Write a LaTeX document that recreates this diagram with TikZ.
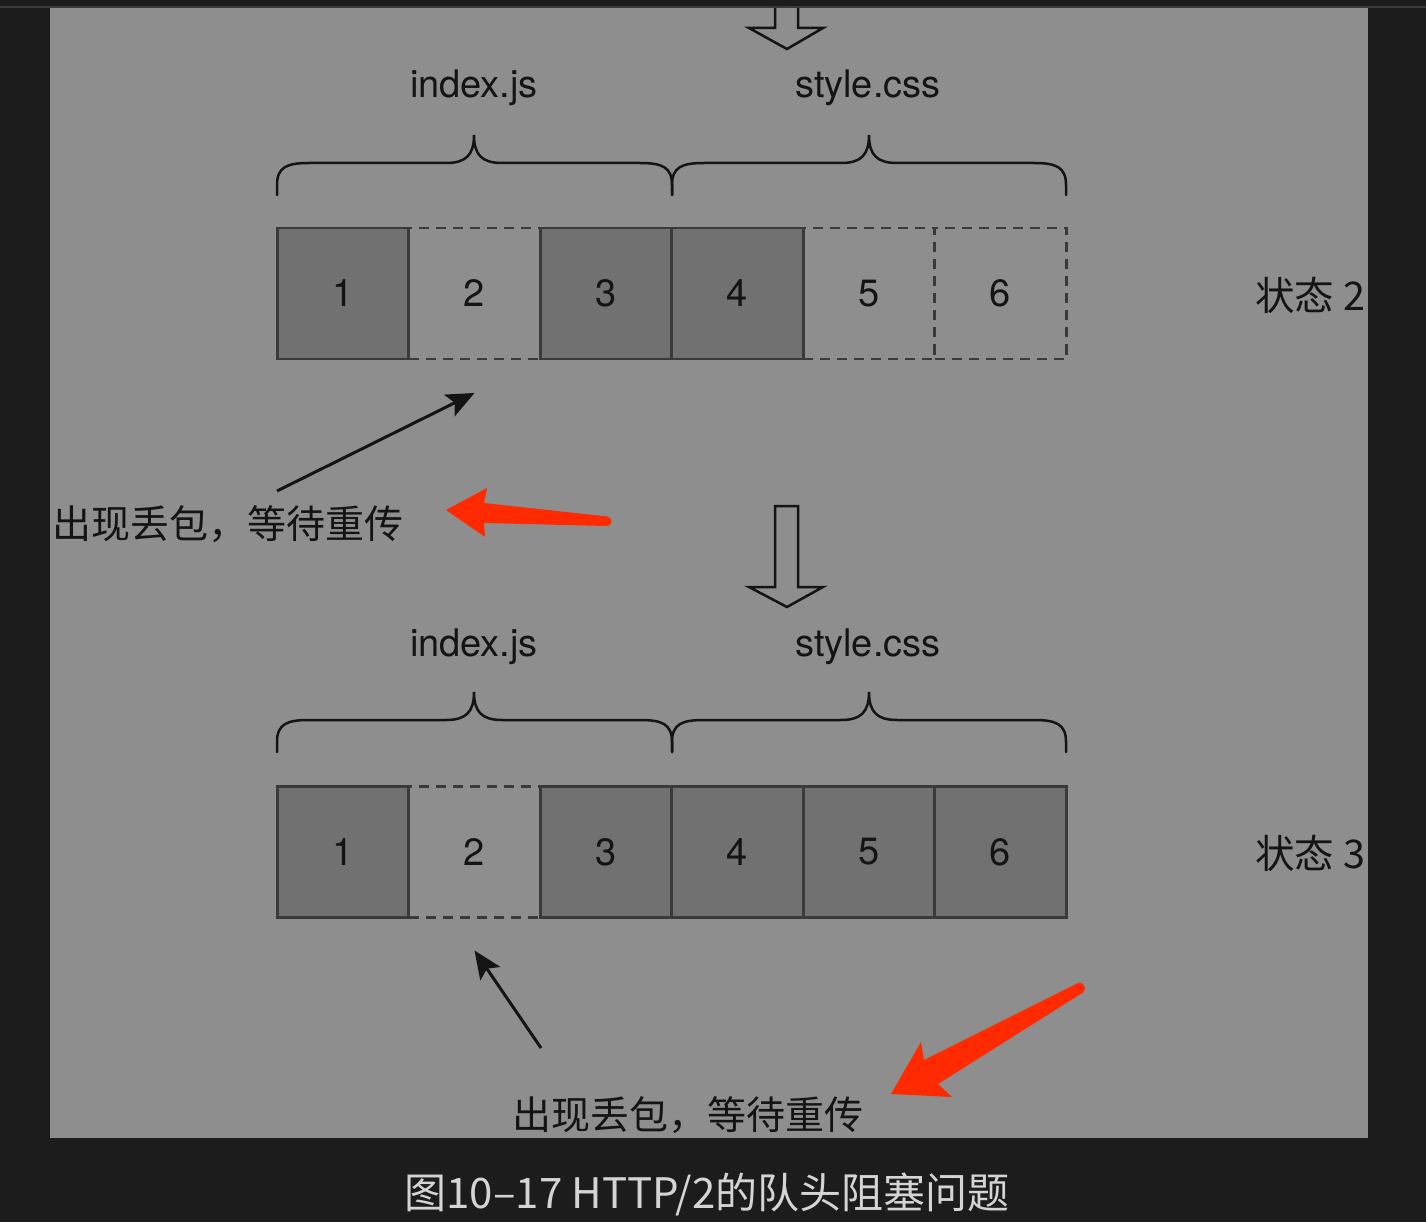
\documentclass[tikz,border=0pt]{standalone}
\usepackage{fontspec}
\setmainfont{TeX Gyre Heros}
\newfontfamily\cjk{Noto Sans CJK SC}
\usetikzlibrary{positioning,arrows.meta}
\definecolor{pagedark}{HTML}{1C1C1C}
\definecolor{topline}{HTML}{3A3A3A}
\definecolor{panelgray}{HTML}{8E8E8E}
\definecolor{pktfill}{HTML}{717171}
\definecolor{pktline}{HTML}{3A3A3A}
\definecolor{inkblack}{HTML}{141414}
\definecolor{markred}{HTML}{FF2A00}
\definecolor{captiongray}{HTML}{D4D4D4}
% brace over one file: left x, middle x, right x, bottom y
\newcommand{\filebrace}[4]{%
  \draw[brace line] (#1,#4) -- (#1,#4-10)
    .. controls (#1,#4-28) and (#1+10,#4-32) .. (#1+32,#4-32)
    -- (#2-28,#4-32)
    .. controls (#2-8,#4-32) and (#2,#4-40) .. (#2,#4-60)
    .. controls (#2,#4-40) and (#2+8,#4-32) .. (#2+28,#4-32)
    -- (#3-32,#4-32)
    .. controls (#3-10,#4-32) and (#3,#4-28) .. (#3,#4-10)
    -- (#3,#4);}

\begin{document}
\begin{tikzpicture}[x=1pt,y=-1pt,
  pkt/.style={minimum width=131.5pt, minimum height=131pt, inner sep=0pt,
    outer sep=0pt, line width=2.7pt, text=inkblack,
    font=\fontsize{38}{40}\selectfont},
  got/.style={pkt, draw=pktline, fill=pktfill},
  lost/.style={pkt, draw=pktline, dash pattern=on 10pt off 7pt},
  file label/.style={anchor=base, text=inkblack, font=\fontsize{38}{40}\selectfont},
  state label/.style={anchor=west, inner sep=0pt, text=inkblack,
    font=\cjk\fontsize{39.5}{42}\selectfont},
  note/.style={anchor=west, inner sep=0pt, text=inkblack,
    font=\cjk\fontsize{39}{42}\selectfont},
  brace line/.style={draw=inkblack, line width=2.5pt, line cap=round},
  block arrow/.style={draw=inkblack, line width=2.5pt, line join=miter},
  point/.style={draw=inkblack, line width=3pt,
    -{Stealth[length=28pt, width=24pt, inset=6pt]}},
  redmark/.style={fill=markred}]

  \useasboundingbox (0,0) rectangle (1426,1222);
  \fill[pagedark] (0,0) rectangle (1426,1222);
  \fill[topline] (0,6) rectangle (1426,8);
  \fill[panelgray] (50,8) rectangle (1368,1138);

  % state 2
  \draw[block arrow] (775,8) -- (775,28) -- (749,28) -- (787,49) -- (823,28) -- (798,28) -- (798,8);
  \node[file label] (js2) at (474,98) {index.js};
  \node[file label] (css2) at (868,98) {style.css};
  \filebrace{277}{474}{672}{195}
  \filebrace{672}{869}{1066}{195}

  \node[got] (s2p1) at (343,293.5) {1};
  \node[lost, right=0pt of s2p1] (s2p2) {2};
  \node[got, right=0pt of s2p2] (s2p3) {3};
  \node[got, right=0pt of s2p3] (s2p4) {4};
  \node[lost, right=0pt of s2p4] (s2p5) {5};
  \node[lost, right=0pt of s2p5] (s2p6) {6};
  \node[state label] (state2) at (1255,295) {状态 2};

  \node[note] (lossA) at (52,524.5) {出现丢包，等待重传};
  \coordinate (lossAfrom) at (277,491);
  \draw[point] (lossAfrom) -- ([yshift=-34pt]s2p2.south);
  \fill[redmark] (446,510) -- (487,488) -- (484,503) -- (607,516.5)
    .. controls (613,517) and (613,526) .. (607,526)
    -- (484,523) -- (485,537) -- cycle;

  % state 3
  \draw[block arrow] (775,506) -- (798,506) -- (798,587) -- (823,587) -- (787,607)
    -- (749,587) -- (775,587) -- cycle;
  \node[file label] (js3) at (474,656) {index.js};
  \node[file label] (css3) at (868,656) {style.css};
  \filebrace{277}{474}{672}{752}
  \filebrace{672}{869}{1066}{752}

  \node[got] (s3p1) at (343,852) {1};
  \node[lost, right=0pt of s3p1] (s3p2) {2};
  \node[got, right=0pt of s3p2] (s3p3) {3};
  \node[got, right=0pt of s3p3] (s3p4) {4};
  \node[got, right=0pt of s3p4] (s3p5) {5};
  \node[got, right=0pt of s3p5] (s3p6) {6};
  \node[state label] (state3) at (1255,853) {状态 3};

  \node[note] (lossB) at (512,1115.5) {出现丢包，等待重传};
  \coordinate (lossBfrom) at (541,1048);
  \draw[point] (lossBfrom) -- ([yshift=-33pt]s3p2.south);
  \fill[redmark] (891,1094) -- (921,1042) -- (924,1060) -- (1077,983.5)
    .. controls (1083,980) and (1088,989) .. (1083,992.5)
    -- (938,1084) -- (952,1097) -- cycle;

  \node[text=captiongray, font=\cjk\fontsize{42}{46}\selectfont] (caption) at (707,1194)
    {图10–17 HTTP/2的队头阻塞问题};
\end{tikzpicture}
\end{document}
